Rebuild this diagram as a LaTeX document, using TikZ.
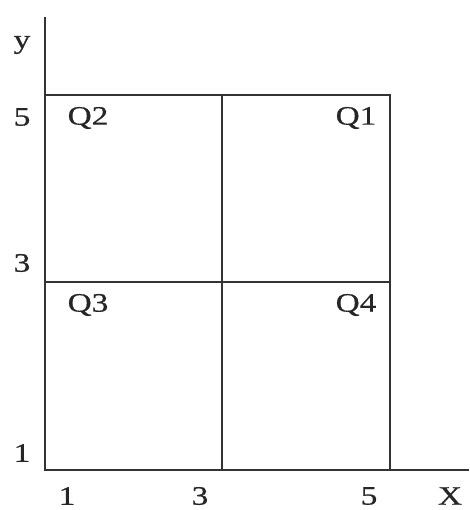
\documentclass[tikz,border=0pt]{standalone}
\usepackage{fontspec}
\setmainfont{Liberation Serif}[FakeStretch=1.25,FakeBold=0.6]
\usepackage{tikz}
\usetikzlibrary{positioning}

\begin{document}
\begin{tikzpicture}[
  x=0.75pt,y=-0.75pt,
  gridline/.style={draw=black!80,line width=1.2pt},
  axisline/.style={draw=black!80,line width=1.1pt},
  ticklabel/.style={inner sep=0pt,font=\fontsize{20}{24}\selectfont,text=black!85},
  quadlabel/.style={inner sep=0pt,font=\fontsize{20}{24}\selectfont,text=black!85}
]
\useasboundingbox (0,0) rectangle (469,510);

% corners of the grid
\coordinate (O)    at (45,470);
\coordinate (Ytop) at (45,17);
\coordinate (Xend) at (469,470);
\coordinate (TL)   at (45,95);
\coordinate (TM)   at (222,95);
\coordinate (TR)   at (390,95);
\coordinate (ML)   at (45,282);
\coordinate (MR)   at (390,282);
\coordinate (BM)   at (222,470);
\coordinate (BR)   at (390,470);

% axes
\draw[axisline] (Ytop) -- (O) -- (Xend);

% quadrant lines
\draw[gridline] (TL) -- (TR) -- (BR);
\draw[gridline] (ML) -- (MR);
\draw[gridline] (TM) -- (BM);

% axis labels
\node[ticklabel] (ylab) at (22,45)  {y};
\node[ticklabel] (y5)   at (22,117) {5};
\node[ticklabel] (y3)   at (22,263) {3};
\node[ticklabel] (y1)   at (22,453) {1};
\node[ticklabel] (x1)   at (67,496) {1};
\node[ticklabel] (x3)   at (200,496) {3};
\node[ticklabel] (x5)   at (369,496) {5};
\node[ticklabel] (xlab) at (450,496) {X};

% quadrant names
\node[quadlabel] (q2) at (88,118)  {Q2};
\node[quadlabel] (q1) at (356,118) {Q1};
\node[quadlabel] (q3) at (88,305)  {Q3};
\node[quadlabel] (q4) at (356,305) {Q4};
\end{tikzpicture}
\end{document}
